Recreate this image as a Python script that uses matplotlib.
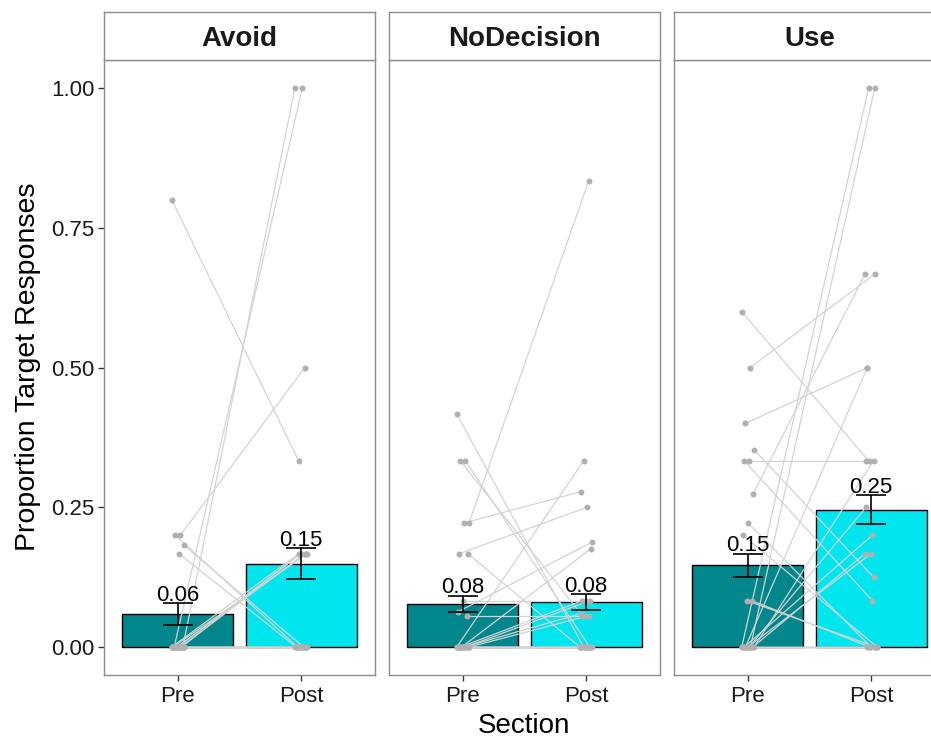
import numpy as np
import matplotlib.pyplot as plt

plt.rcParams['font.family'] = ['Liberation Sans', 'DejaVu Sans']

panels = ['Avoid', 'NoDecision', 'Use']
sections = ['Pre', 'Post']

# paired subject proportions (Pre, Post)
avoid_pre = [0.8, 0.2, 0.2, 0.182, 0.167, 0, 0, 0, 0, 0, 0, 0, 0] + [0] * 13
avoid_post = [0.333, 0.5, 0, 0, 0, 1.0, 1.0, 0.167, 0.167, 0.167, 0.167, 0.167, 0.167] + [0] * 13

nodec_pre = [0.417, 0.333, 0.333, 0.222, 0.222, 0.167, 0.167, 0.083, 0.063, 0.056,
             0, 0, 0, 0, 0, 0] + [0] * 12
nodec_post = [0, 0, 0.056, 0.833, 0.278, 0.25, 0, 0.083, 0.188, 0.056,
              0.176, 0.333, 0.083, 0.083, 0.056, 0.06] + [0] * 12

use_pre = [0.6, 0.5, 0.4, 0.353, 0.333, 0.333, 0.273, 0.222, 0.2, 0.083, 0.083,
           0, 0, 0, 0, 0, 0, 0, 0] + [0] * 6
use_post = [0.333, 0.667, 0.5, 0.125, 0.333, 0.083, 0.667, 0, 0, 0, 0,
            1.0, 1.0, 0.5, 0.333, 0.25, 0.2, 0.167, 0.167] + [0] * 6

# bar means and error half-widths
mean_pre = [0.059, 0.077, 0.146]
mean_post = [0.149, 0.081, 0.246]
err_pre = [0.019, 0.015, 0.021]
err_post = [0.028, 0.014, 0.026]

subjects = [(avoid_pre, avoid_post), (nodec_pre, nodec_post), (use_pre, use_post)]
fills = ['#00868B', '#00E5EE']

W, H = 931, 738
fig = plt.figure(figsize=(W / 100, H / 100), dpi=100)

lefts = [104, 389, 674]
pw = 271
ptop, pbot, stop = 60, 675, 12

for i, name in enumerate(panels):
    L = lefts[i]
    ax = fig.add_axes([L / W, 1 - pbot / H, pw / W, (pbot - ptop) / H])
    sx = fig.add_axes([L / W, 1 - ptop / H, pw / W, (ptop - stop) / H])

    means = [mean_pre[i], mean_post[i]]
    errs = [err_pre[i], err_post[i]]
    xs = np.array([1, 2])
    ax.bar(xs, means, width=0.9, color=fills, edgecolor='black', linewidth=1.0, zorder=1)

    pre, post = subjects[i]
    n = len(pre)
    j1 = np.array([((k * 7) % 11 - 5) / 5 * 0.05 for k in range(n)])
    j2 = np.array([((k * 5 + 3) % 11 - 5) / 5 * 0.05 for k in range(n)])
    for k in range(n):
        ax.plot([1 + j1[k], 2 + j2[k]], [pre[k], post[k]], color='#d3d3d3', lw=0.9, zorder=2)
    ax.plot(1 + j1, pre, 'o', color='#b0b0b0', ms=4.3, mec='none', zorder=3)
    ax.plot(2 + j2, post, 'o', color='#b0b0b0', ms=4.3, mec='none', zorder=3)

    ax.errorbar(xs, means, yerr=errs, fmt='none', ecolor='black', elinewidth=1.2,
                capsize=11, capthick=1.2, zorder=4)
    for x, m, e in zip(xs, means, errs):
        ax.text(x, m + e + 0.004, f'{m:.2f}', ha='center', va='baseline',
                fontsize=16, color='black', zorder=5)

    ax.set_xlim(0.4, 2.6)
    ax.set_ylim(-0.05, 1.05)
    ax.set_xticks(xs)
    ax.set_xticklabels(sections)
    ax.set_yticks([0, 0.25, 0.5, 0.75, 1.0])
    if i == 0:
        ax.set_yticklabels(['0.00', '0.25', '0.50', '0.75', '1.00'])
        ax.tick_params(axis='y', length=4, width=1, color='#333333', labelsize=16,
                       labelcolor='#1a1a1a', pad=3)
    else:
        ax.tick_params(axis='y', left=False, labelleft=False)
    ax.tick_params(axis='x', length=4, width=1, color='#333333', labelsize=16,
                   labelcolor='#1a1a1a', pad=4)
    for s in ax.spines.values():
        s.set_color('#8c8c8c')
        s.set_linewidth(1.0)

    sx.set_xticks([])
    sx.set_yticks([])
    for s in sx.spines.values():
        s.set_color('#8c8c8c')
        s.set_linewidth(1.0)
    sx.text(0.5, 0.44, name, ha='center', va='center', fontsize=20,
            fontweight='bold', color='#1a1a1a', transform=sx.transAxes)

fig.text(28 / W, 1 - 367 / H, 'Proportion Target Responses', rotation=90,
         ha='center', va='center', fontsize=20.5)
fig.text(524 / W, 1 - 726 / H, 'Section', ha='center', va='center', fontsize=20)

fig.savefig('out.png', dpi=100)
